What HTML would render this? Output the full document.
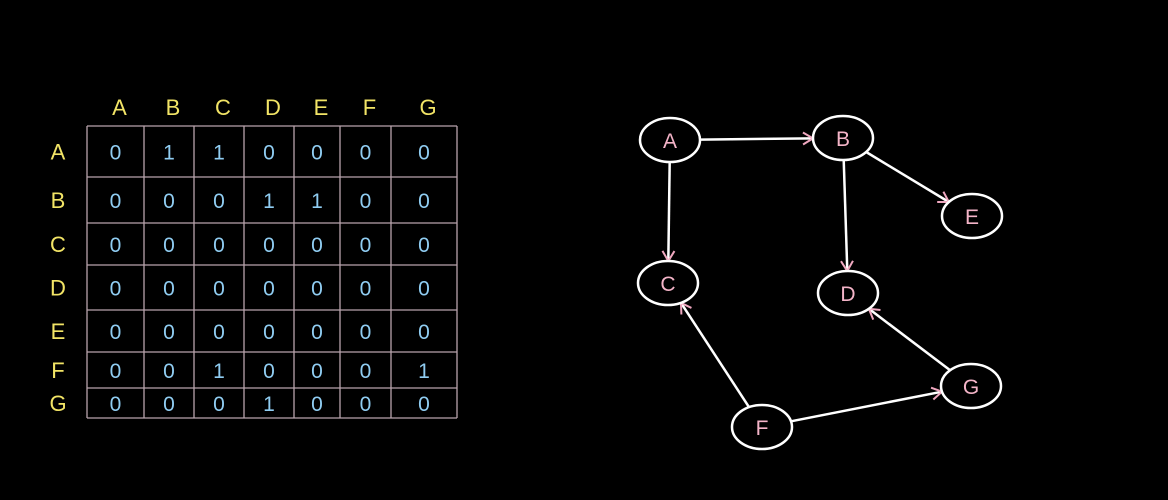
<!DOCTYPE html>
<html><head><meta charset="utf-8"><style>
html,body{margin:0;padding:0;background:#000;width:1168px;height:500px;overflow:hidden}
svg{display:block}
text{font-family:"Liberation Sans",sans-serif}
</style></head><body>
<svg id="s" width="1168" height="500"></svg>
<script>
const labels=['A','B','C','D','E','F','G'];
const matrix=[
[0,1,1,0,0,0,0],
[0,0,0,1,1,0,0],
[0,0,0,0,0,0,0],
[0,0,0,0,0,0,0],
[0,0,0,0,0,0,0],
[0,0,1,0,0,0,1],
[0,0,0,1,0,0,0]];
const colEdges=[87,144,194,244,294,340,391,457];
const rowEdges=[126,177,223,265,310,352,388,418];
const nodeNames=['A','B','C','D','E','F','G'];
const nodeX=[670,843,668,848,972,762,971];
const nodeY=[140,138,283,293,216,427,386];
const edges=[['A','B'],['A','C'],['B','D'],['B','E'],['F','C'],['F','G'],['G','D']];
const NS='http://www.w3.org/2000/svg';
const s=document.getElementById('s');
function el(t,a){const e=document.createElementNS(NS,t);for(const k in a)e.setAttribute(k,a[k]);s.appendChild(e);return e;}
// grid
colEdges.forEach((x,i)=>{const e=el('line',{x1:x,y1:rowEdges[0],x2:x,y2:rowEdges[7],stroke:'#b8a4ac','stroke-width':1.3});

});
rowEdges.forEach((y,i)=>{const e=el('line',{x1:colEdges[0],y1:y,x2:colEdges[7],y2:y,stroke:'#b8a4ac','stroke-width':1.3});

});
labels.forEach((l,i)=>{
 const cx=(colEdges[i]+colEdges[i+1])/2, cy=(rowEdges[i]+rowEdges[i+1])/2;
 const c=el('text',{x:cx+4,y:115,fill:'#f2e466','font-size':22,'text-anchor':'middle'});c.textContent=l;
 
 
 const r=el('text',{x:58,y:cy+8,fill:'#f2e466','font-size':22,'text-anchor':'middle'});r.textContent=l;
 
 
});
matrix.forEach((row,i)=>row.forEach((v,j)=>{
 const cx=(colEdges[j]+colEdges[j+1])/2, cy=(rowEdges[i]+rowEdges[i+1])/2;
 const t=el('text',{x:cx,y:cy+8,fill:'#90cdf2','font-size':21,'text-anchor':'middle'});t.textContent=v;
 
 
}));
// graph edges
const idx=n=>nodeNames.indexOf(n);
edges.forEach(([a,b])=>{
 const x1=nodeX[idx(a)],y1=nodeY[idx(a)],x2=nodeX[idx(b)],y2=nodeY[idx(b)];
 const dx=x2-x1,dy=y2-y1,L=Math.hypot(dx,dy),ux=dx/L,uy=dy/L;
 const r=(ang)=>Math.sqrt(1/((Math.cos(ang)/30)**2+(Math.sin(ang)/22)**2));
 const ang=Math.atan2(dy,dx);
 const ra=r(ang);
 const sx=x1+ux*ra,sy=y1+uy*ra,ex=x2-ux*ra,ey=y2-uy*ra;
 const e=el('line',{x1:sx,y1:sy,x2:ex,y2:ey,stroke:'#fff','stroke-width':2.5});
 
 
 const px=-uy,py=ux,h=10;
 const ah=el('polyline',{points:`${ex-ux*h+px*6},${ey-uy*h+py*6} ${ex},${ey} ${ex-ux*h-px*6},${ey-uy*h-py*6}`,fill:'none',stroke:'#f0a8c0','stroke-width':2});
 
 
});
nodeNames.forEach((n,i)=>{
 const c=el('ellipse',{cx:nodeX[i],cy:nodeY[i],rx:30,ry:22,fill:'#000',stroke:'#fff','stroke-width':2.5});
 
 
 const t=el('text',{x:nodeX[i],y:nodeY[i]+8,fill:'#f4b4c8','font-size':21,'text-anchor':'middle'});t.textContent=n;
 
 
});
</script>
</body></html>
